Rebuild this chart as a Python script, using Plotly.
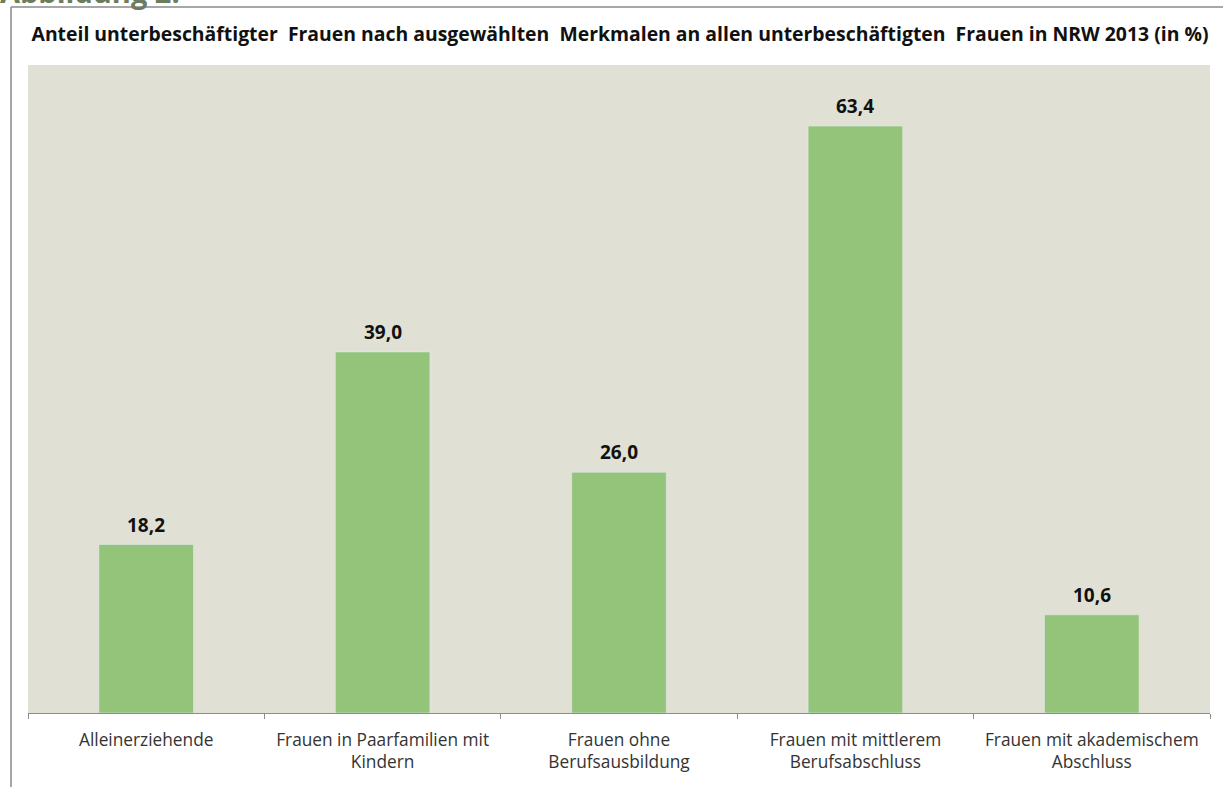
import plotly.graph_objects as go

categories = ["Alleinerziehende", "Frauen in Paarfamilien mit Kindern", "Frauen ohne Berufsausbildung",
              "Frauen mit mittlerem Berufsabschluss", "Frauen mit akademischem Abschluss"]
tick_labels = ["Alleinerziehende", "Frauen in Paarfamilien mit<br>Kindern", "Frauen ohne<br>Berufsausbildung",
               "Frauen mit mittlerem<br>Berufsabschluss", "Frauen mit akademischem<br>Abschluss"]
values = [18.2, 39.0, 26.0, 63.4, 10.6]

title = "Anteil unterbeschäftigter  Frauen nach ausgewählten  Merkmalen an allen unterbeschäftigten  Frauen in NRW 2013 (in %)"

W, H = 1223, 787
L, R, T, B = 28, 13, 65, 74
pw, ph = W - L - R, H - T - B

def px(x):
    return (x - L) / pw

def py(y):
    return (H - B - y) / ph

FONT = "Open Sans"

fig = go.Figure(go.Bar(
    x=categories, y=values, marker_color="#93C47A", width=0.4,
    hoverinfo="skip",
))

for c, v in zip(categories, values):
    fig.add_annotation(x=c, y=v, text="<b>" + f"{v:.1f}".replace(".", ",") + "</b>",
                       showarrow=False, yanchor="bottom", yshift=5,
                       font=dict(family=FONT, size=19, color="#111111"))

fig.update_layout(
    width=W, height=H, margin=dict(l=L, r=R, t=T, b=B),
    paper_bgcolor="white", plot_bgcolor="#E0E0D4",
    separators=",.", showlegend=False, bargap=0.6,
    font=dict(family=FONT, color="#333333"),
    title=dict(text="<b>" + title + "</b>", x=620 / W, xanchor="center", xref="container",
               y=1 - 34 / H, yanchor="middle", yref="container",
               font=dict(family=FONT, size=19.4, color="#111111")),
)
fig.update_xaxes(tickmode="array", tickvals=categories, ticktext=tick_labels,
                 tickson="boundaries", ticks="outside", ticklen=5, tickcolor="#8c8c8c",
                 showline=True, linecolor="#8c8c8c", linewidth=1, ticklabelstandoff=11,
                 tickfont=dict(family=FONT, size=17.3, color="#333333"))
fig.update_yaxes(range=[0, 70], visible=False, showgrid=False)

# outer frame lines
fig.add_shape(type="line", xref="paper", yref="paper", x0=px(11), x1=px(11), y0=py(7), y1=py(790),
              line=dict(color="#8a8a8a", width=1.5))
fig.add_shape(type="line", xref="paper", yref="paper", x0=px(11), x1=px(1225), y0=py(7), y1=py(7),
              line=dict(color="#8a8a8a", width=1.5))
fig.add_annotation(text="<b>Abbildung 2:</b>", xref="paper", yref="paper", x=px(-2), y=py(13),
                   xanchor="left", yanchor="bottom", showarrow=False,
                   font=dict(family=FONT, size=29, color="#6B7D5E"))

fig.write_html("out.html", config={"displayModeBar": False},
               post_script="document.body.style.margin='0px';document.body.style.padding='0px';")
